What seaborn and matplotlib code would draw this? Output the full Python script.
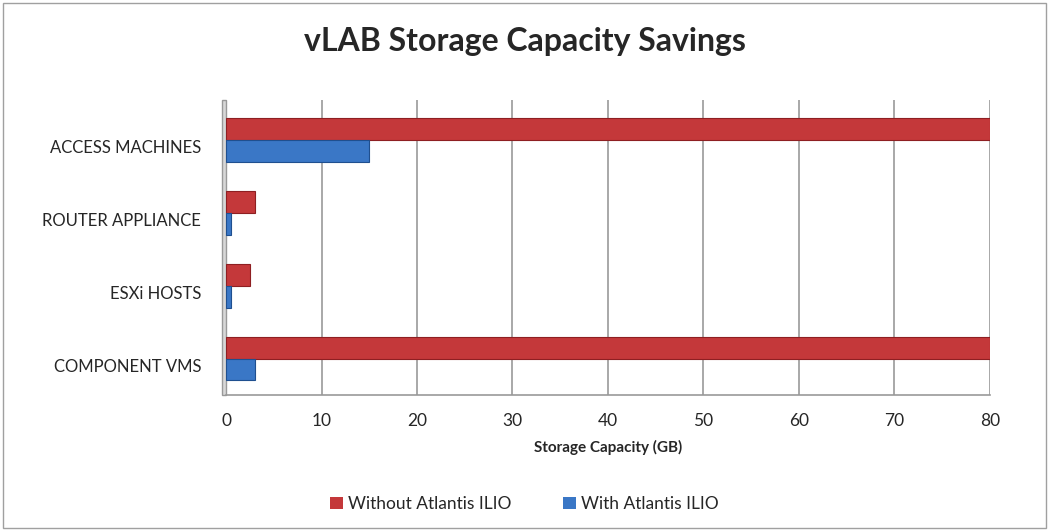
import matplotlib
matplotlib.use("Agg")
import matplotlib.pyplot as plt
import matplotlib.transforms as mtransforms
import seaborn as sns
import pandas as pd
from matplotlib.patches import Rectangle

categories = ["ACCESS MACHINES", "ROUTER APPLIANCE", "ESXi HOSTS", "COMPONENT VMS"]
without_ilio = [80, 3, 2.5, 80]
with_ilio = [15, 0.5, 0.5, 3]
series_names = ["Without Atlantis ILIO", "With Atlantis ILIO"]
x_ticks = [0, 10, 20, 30, 40, 50, 60, 70, 80]

df = pd.DataFrame({
    "Category": categories * 2,
    "Value": without_ilio + with_ilio,
    "Series": [series_names[0]] * 4 + [series_names[1]] * 4,
})

sns.set_style("white")
plt.rcParams["font.family"] = ["Lato", "DejaVu Sans"]

fig = plt.figure(figsize=(10.49, 5.31), dpi=100)
ax = fig.add_axes([0.2155, 0.256, 0.728, 0.556])

palette = {series_names[0]: "#C4383A", series_names[1]: "#3A77C6"}
sns.barplot(data=df, y="Category", x="Value", hue="Series", order=categories,
            hue_order=series_names, palette=palette, orient="h", ax=ax,
            width=0.6, saturation=1, edgecolor="none", legend=True)

for p, c in zip(ax.patches, ["#8E1F22"] * 4 + ["#1F4F8F"] * 4):
    if p.get_width() > 0:
        p.set_edgecolor(c)
        p.set_linewidth(0.8)

ax.set_xlim(0, 80)
ax.set_ylim(3.5, -0.55)
ax.set_xticks(x_ticks)
ax.set_xticklabels([str(t) for t in x_ticks], fontsize=12.5)
ax.tick_params(axis="y", labelsize=12, length=0, pad=18)
ax.tick_params(axis="x", length=5, color="#999999", pad=8)
offset = mtransforms.ScaledTranslation(0, -7 / 100, fig.dpi_scale_trans)
for lbl in ax.get_yticklabels():
    lbl.set_transform(lbl.get_transform() + offset)
ax.grid(axis="x", color="#999999", linewidth=1.2)
ax.set_axisbelow(True)
for s in ["top", "right", "left"]:
    ax.spines[s].set_visible(False)
ax.spines["bottom"].set_color("#999999")
ax.spines["bottom"].set_linewidth(1.2)
ax.set_ylabel("")
ax.set_xlabel("Storage Capacity (GB)", fontsize=11, fontweight="bold", labelpad=8)

# left wall
ax.add_patch(Rectangle((-0.45, -0.55), 0.45, 4.05, transform=ax.transData,
                       facecolor="#D8D8D8", edgecolor="#999999", linewidth=1,
                       clip_on=False, zorder=0))

fig.suptitle("vLAB Storage Capacity Savings", fontsize=23, fontweight="bold", y=0.95)

handles, labels = ax.get_legend_handles_labels()
ax.get_legend().remove()
fig.legend(handles, labels, loc="center", bbox_to_anchor=(0.5, 0.05), ncol=2,
           frameon=False, fontsize=12.5, handlelength=0.7, handleheight=0.7,
           columnspacing=3, handletextpad=0.3)

fig.add_artist(Rectangle((0.003, 0.005), 0.994, 0.99, transform=fig.transFigure,
                         facecolor="none", edgecolor="#A0A0A0", linewidth=1))

fig.savefig("out.png", dpi=100, facecolor="white")
